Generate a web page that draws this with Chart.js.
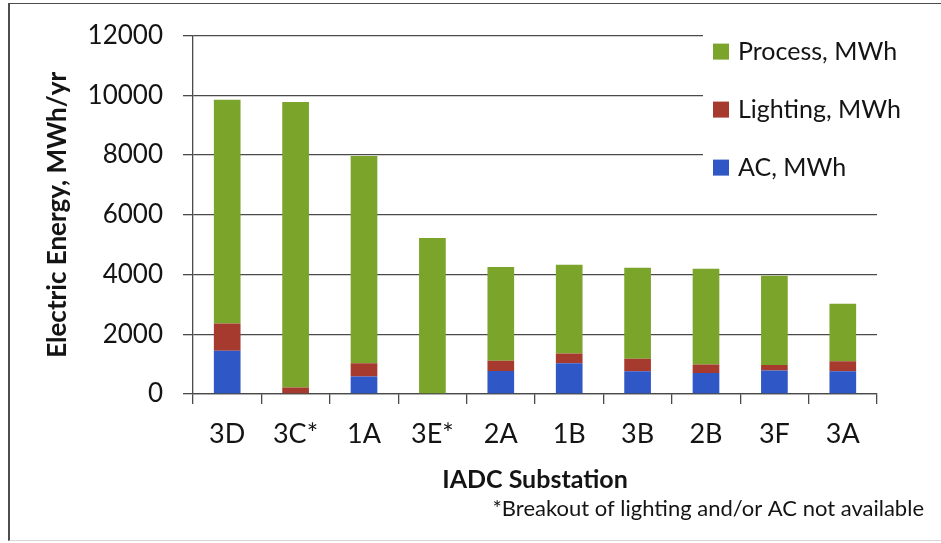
<!DOCTYPE html>
<html>
<head>
<meta charset="utf-8">
<title>IADC Substation electric energy</title>
<script src="https://cdn.jsdelivr.net/npm/chart.js@4.4.0/dist/chart.umd.min.js"></script>
<style>
  body { margin: 0; background: #fff; }
  #wrap { position: relative; width: 941px; height: 543px; overflow: hidden; }
  #frame {
    position: absolute; left: 8px; top: 3px; width: 960px; height: 538px;
    border-left: 2px solid #4d4d4d; border-top: 1.5px solid #4d4d4d;
    border-bottom: 1px solid #d8d8d8; box-sizing: border-box; pointer-events: none;
  }
</style>
</head>
<body>
<div id="wrap">
  <canvas id="energyChart" width="941" height="543"></canvas>
  <div id="frame"></div>
</div>
<script>
// values (MWh/yr)
const substations = ['3D', '3C*', '1A', '3E*', '2A', '1B', '3B', '2B', '3F', '3A'];
const acMWh       = [1450,    0,  590,    0,  770, 1030,  760,  700,  790,  760];
const lightingMWh = [ 910,  220,  440,    0,  340,  330,  420,  290,  180,  340];
const processMWh  = [7490, 9560, 6940, 5220, 3140, 2970, 3050, 3200, 2990, 1920];
const yMax = 12000;
const yStep = 2000;
const footnote = '*Breakout of lighting and/or AC not available';

const FONT = 'Lato, "Open Sans", sans-serif';
const TEXT = '#141414';
const GRID = '#4a4a4a';

// legend sits inside the plot area on a white patch, like the original
const boxLegend = {
    id: 'boxLegend',
    afterDraw(chart) {
        const ctx = chart.ctx;
        const area = chart.chartArea;
        const left = area.right - 174;
        ctx.save();
        ctx.fillStyle = '#fff';
        ctx.fillRect(left, area.top - 4, area.right - left + 3, 156);

        const sets = chart.data.datasets.slice().reverse();
        ctx.font = '25px ' + FONT;
        ctx.textBaseline = 'middle';
        ctx.textAlign = 'left';
        sets.forEach(function (ds, i) {
            const cy = area.top + 16 + i * 58;
            ctx.fillStyle = ds.backgroundColor;
            ctx.fillRect(left + 10, cy - 8, 16, 16);
            ctx.fillStyle = TEXT;
            ctx.fillText(ds.label, left + 35, cy);
        });

        ctx.font = '22px ' + FONT;
        ctx.textAlign = 'right';
        ctx.fillText(footnote, chart.width - 17, 509);
        ctx.restore();
    }
};

var ctx = document.getElementById('energyChart');
new Chart(ctx, {
    type: 'bar',
    data: {
        labels: substations,
        datasets: [
            { label: 'AC, MWh', data: acMWh, backgroundColor: '#2f57c6' },
            { label: 'Lighting, MWh', data: lightingMWh, backgroundColor: '#a63a2f' },
            { label: 'Process, MWh', data: processMWh, backgroundColor: '#7aa42a' }
        ]
    },
    options: {
        responsive: false,
        animation: false,
        layout: { padding: { left: 0, top: 30, right: 64, bottom: 0 } },
        datasets: { bar: { barPercentage: 0.39, categoryPercentage: 1 } },
        plugins: {
            legend: { display: false },
            tooltip: { enabled: false }
        },
        scales: {
            x: {
                stacked: true,
                afterFit: function (scale) { scale.height = 149; },
                grid: { drawOnChartArea: false, offset: true, tickLength: 10, color: GRID, lineWidth: 1.3 },
                border: { color: GRID, width: 1.3 },
                ticks: { color: TEXT, font: { family: FONT, size: 27 }, padding: 14, maxRotation: 0 },
                title: {
                    display: true,
                    text: 'IADC Substation',
                    color: TEXT,
                    font: { family: FONT, size: 25, weight: 'bold' },
                    padding: { top: 0, bottom: 48 }
                }
            },
            y: {
                stacked: true,
                min: 0,
                max: yMax,
                afterFit: function (scale) { scale.width = 193; },
                grid: { color: GRID, lineWidth: 1.3, tickLength: 10 },
                border: { color: GRID, width: 1.3 },
                ticks: {
                    stepSize: yStep,
                    color: TEXT,
                    font: { family: FONT, size: 26 },
                    padding: 20,
                    callback: function (value) { return String(value); }
                },
                title: {
                    display: true,
                    text: 'Electric Energy, MWh/yr',
                    color: TEXT,
                    font: { family: FONT, size: 26, weight: 'bold' },
                    padding: { top: 42, bottom: 0 }
                }
            }
        }
    },
    plugins: [boxLegend]
});
</script>
</body>
</html>
